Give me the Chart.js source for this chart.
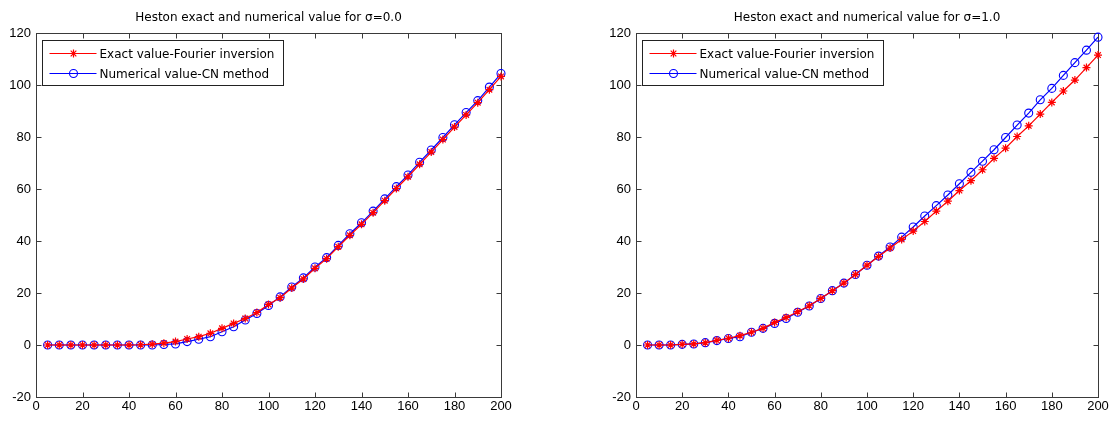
<!DOCTYPE html>
<html>
<head>
<meta charset="utf-8">
<script src="https://cdn.jsdelivr.net/npm/chart.js@4/dist/chart.umd.min.js"></script>
<style>
  body { margin: 0; background: #fff; }
  canvas { position: absolute; top: 0; }
</style>
</head>
<body>
<canvas id="graficaIzq" width="557" height="421" style="left:0"></canvas>
<canvas id="graficaDer" width="557" height="421" style="left:557px"></canvas>
<script>
const puntosX = [5, 10, 15, 20, 25, 30, 35, 40, 45, 50, 55, 60, 65, 70, 75, 80, 85, 90, 95, 100,
    105, 110, 115, 120, 125, 130, 135, 140, 145, 150, 155, 160, 165, 170, 175, 180, 185, 190, 195, 200];

// sigma = 0.0
const exactoSigma0 = [0, 0, 0, 0, 0, 0, 0, 0, 0.1, 0.3, 0.7, 1.3, 2.3, 3.2, 4.5, 6.4, 8.3, 10.2, 12.5, 15.6,
    18.2, 21.9, 25.4, 29.5, 33.2, 37.8, 42.2, 46.4, 50.9, 55.5, 60.2, 64.7, 69.5, 74.2, 79, 83.8, 88.5, 93.2, 98.2, 103.3];
const numericoSigma0 = [0, 0, 0, 0, 0, 0, 0, 0, 0, 0, 0.2, 0.4, 1.3, 2.2, 3.2, 5.1, 7, 9.6, 12.1, 15.2,
    18.5, 22.3, 25.8, 30, 33.6, 38.3, 42.8, 47, 51.5, 56.2, 60.9, 65.4, 70.3, 75, 79.8, 84.7, 89.4, 94, 99.2, 104.4];

// sigma = 1.0
const exactoSigma1 = [0, 0, 0, 0.25, 0.4, 0.9, 1.8, 2.6, 3.6, 4.9, 6.4, 8.7, 10.6, 12.8, 15.1, 17.9, 20.9, 23.8, 27.1, 30.7,
    34, 37.3, 40.6, 43.8, 47.5, 51.5, 55.3, 59.4, 63.2, 67.4, 71.8, 75.7, 80.2, 84.3, 88.8, 93.3, 97.7, 101.9, 106.7, 111.5];
const numericoSigma1 = [0, 0, 0, 0.25, 0.4, 0.9, 1.7, 2.5, 3.2, 4.9, 6.4, 8.3, 10.2, 12.6, 15, 17.9, 20.9, 23.8, 27.1, 30.7,
    34.2, 37.7, 41.5, 45.4, 49.6, 53.6, 57.7, 62, 66.4, 70.7, 75.1, 79.8, 84.6, 89.2, 94.3, 98.7, 103.7, 108.6, 113.4, 118.4];

const etiquetas = ['Exact value-Fourier inversion', 'Numerical value-CN method'];
const fuenteEjes = '"Liberation Sans", Arial, sans-serif';
const fuenteTexto = '"DejaVu Sans", sans-serif';

// caja estilo matlab: marco completo y ticks hacia dentro
const marcoPlugin = {
    id: 'marco',
    beforeDatasetsDraw(chart) {
        const { ctx, chartArea: a, scales: { x, y } } = chart;
        ctx.save();
        ctx.strokeStyle = '#3a3a3a';
        ctx.lineWidth = 1;
        const l = Math.round(a.left) + 0.5, r = Math.round(a.right) + 0.5;
        const t = Math.round(a.top) + 0.5, b = Math.round(a.bottom) + 0.5;
        ctx.strokeRect(l, t, r - l, b - t);
        ctx.beginPath();
        x.ticks.forEach(tick => {
            const px = Math.round(x.getPixelForValue(tick.value)) + 0.5;
            ctx.moveTo(px, b); ctx.lineTo(px, b - 5);
            ctx.moveTo(px, t); ctx.lineTo(px, t + 5);
        });
        y.ticks.forEach(tick => {
            const py = Math.round(y.getPixelForValue(tick.value)) + 0.5;
            ctx.moveTo(l, py); ctx.lineTo(l + 5, py);
            ctx.moveTo(r, py); ctx.lineTo(r - 5, py);
        });
        ctx.stroke();
        ctx.restore();
    }
};

// titulo centrado sobre el area del grafico
const tituloPlugin = {
    id: 'tituloCentrado',
    afterDraw(chart, args, opciones) {
        const { ctx, chartArea: a } = chart;
        ctx.save();
        ctx.fillStyle = '#000';
        ctx.font = '12px ' + fuenteTexto;
        ctx.textAlign = 'center';
        ctx.textBaseline = 'alphabetic';
        ctx.fillText(opciones.texto, (a.left + a.right) / 2, 21);
        ctx.restore();
    }
};

function dibujarMarcador(ctx, estilo, cx, cy, radio) {
    ctx.beginPath();
    if (estilo === 'circle') {
        ctx.arc(cx, cy, radio, 0, Math.PI * 2);
    } else {
        const d = radio * Math.SQRT1_2;
        ctx.moveTo(cx - radio, cy); ctx.lineTo(cx + radio, cy);
        ctx.moveTo(cx, cy - radio); ctx.lineTo(cx, cy + radio);
        ctx.moveTo(cx - d, cy - d); ctx.lineTo(cx + d, cy + d);
        ctx.moveTo(cx - d, cy + d); ctx.lineTo(cx + d, cy - d);
    }
    ctx.stroke();
}

// leyenda dentro del area, arriba a la izquierda
const leyendaPlugin = {
    id: 'leyendaCaja',
    afterDatasetsDraw(chart) {
        const { ctx, chartArea: a } = chart;
        const x0 = Math.round(a.left) + 6.5, y0 = Math.round(a.top) + 7.5;
        ctx.save();
        ctx.fillStyle = '#fff';
        ctx.strokeStyle = '#222';
        ctx.lineWidth = 1;
        ctx.fillRect(x0, y0, 241, 45);
        ctx.strokeRect(x0, y0, 241, 45);
        chart.data.datasets.forEach((ds, i) => {
            const cy = y0 + 13 + i * 20;
            ctx.strokeStyle = ds.borderColor;
            ctx.lineWidth = ds.borderWidth;
            ctx.beginPath();
            ctx.moveTo(x0 + 7, cy);
            ctx.lineTo(x0 + 54, cy);
            ctx.stroke();
            ctx.lineWidth = ds.pointBorderWidth;
            dibujarMarcador(ctx, ds.pointStyle, x0 + 31, cy, ds.pointRadius);
            ctx.fillStyle = '#000';
            ctx.font = '12px ' + fuenteTexto;
            ctx.textBaseline = 'middle';
            ctx.fillText(etiquetas[i], x0 + 57, cy + 1);
        });
        ctx.restore();
    }
};

function crearGrafica(id, titulo, exacto, numerico, relleno) {
    new Chart(document.getElementById(id), {
        type: 'line',
        data: {
            datasets: [
                {
                    label: etiquetas[0],
                    data: puntosX.map((x, i) => ({ x: x, y: exacto[i] })),
                    borderColor: '#ff0000',
                    backgroundColor: '#ff0000',
                    borderWidth: 1.2,
                    pointStyle: 'star',
                    pointRadius: 4,
                    pointBorderWidth: 1.2,
                    clip: false
                },
                {
                    label: etiquetas[1],
                    data: puntosX.map((x, i) => ({ x: x, y: numerico[i] })),
                    borderColor: '#0000ff',
                    backgroundColor: 'rgba(0,0,0,0)',
                    borderWidth: 1.2,
                    pointStyle: 'circle',
                    pointRadius: 4,
                    pointBorderWidth: 1.1,
                    clip: false
                }
            ]
        },
        options: {
            responsive: false,
            animation: false,
            layout: { padding: relleno },
            scales: {
                x: {
                    type: 'linear',
                    min: 0,
                    max: 200,
                    grid: { display: false, drawTicks: false },
                    border: { display: false },
                    ticks: { stepSize: 20, color: '#000', padding: 2, maxRotation: 0, font: { family: fuenteEjes, size: 13 } },
                    afterFit: s => { s.height = 24; }
                },
                y: {
                    type: 'linear',
                    min: -20,
                    max: 120,
                    grid: { display: false, drawTicks: false },
                    border: { display: false },
                    ticks: { stepSize: 20, color: '#000', padding: 5, font: { family: fuenteEjes, size: 13 } },
                    afterFit: s => { s.width = 36; }
                }
            },
            plugins: {
                legend: { display: false },
                tooltip: { enabled: false },
                title: { display: false },
                tituloCentrado: { texto: titulo }
            }
        },
        plugins: [marcoPlugin, leyendaPlugin, tituloPlugin]
    });
}

crearGrafica('graficaIzq', 'Heston exact and numerical value for σ=0.0', exactoSigma0, numericoSigma0,
    { left: 0, right: 56, top: 33, bottom: 0 });
crearGrafica('graficaDer', 'Heston exact and numerical value for σ=1.0', exactoSigma1, numericoSigma1,
    { left: 43, right: 16, top: 33, bottom: 0 });
</script>
</body>
</html>
